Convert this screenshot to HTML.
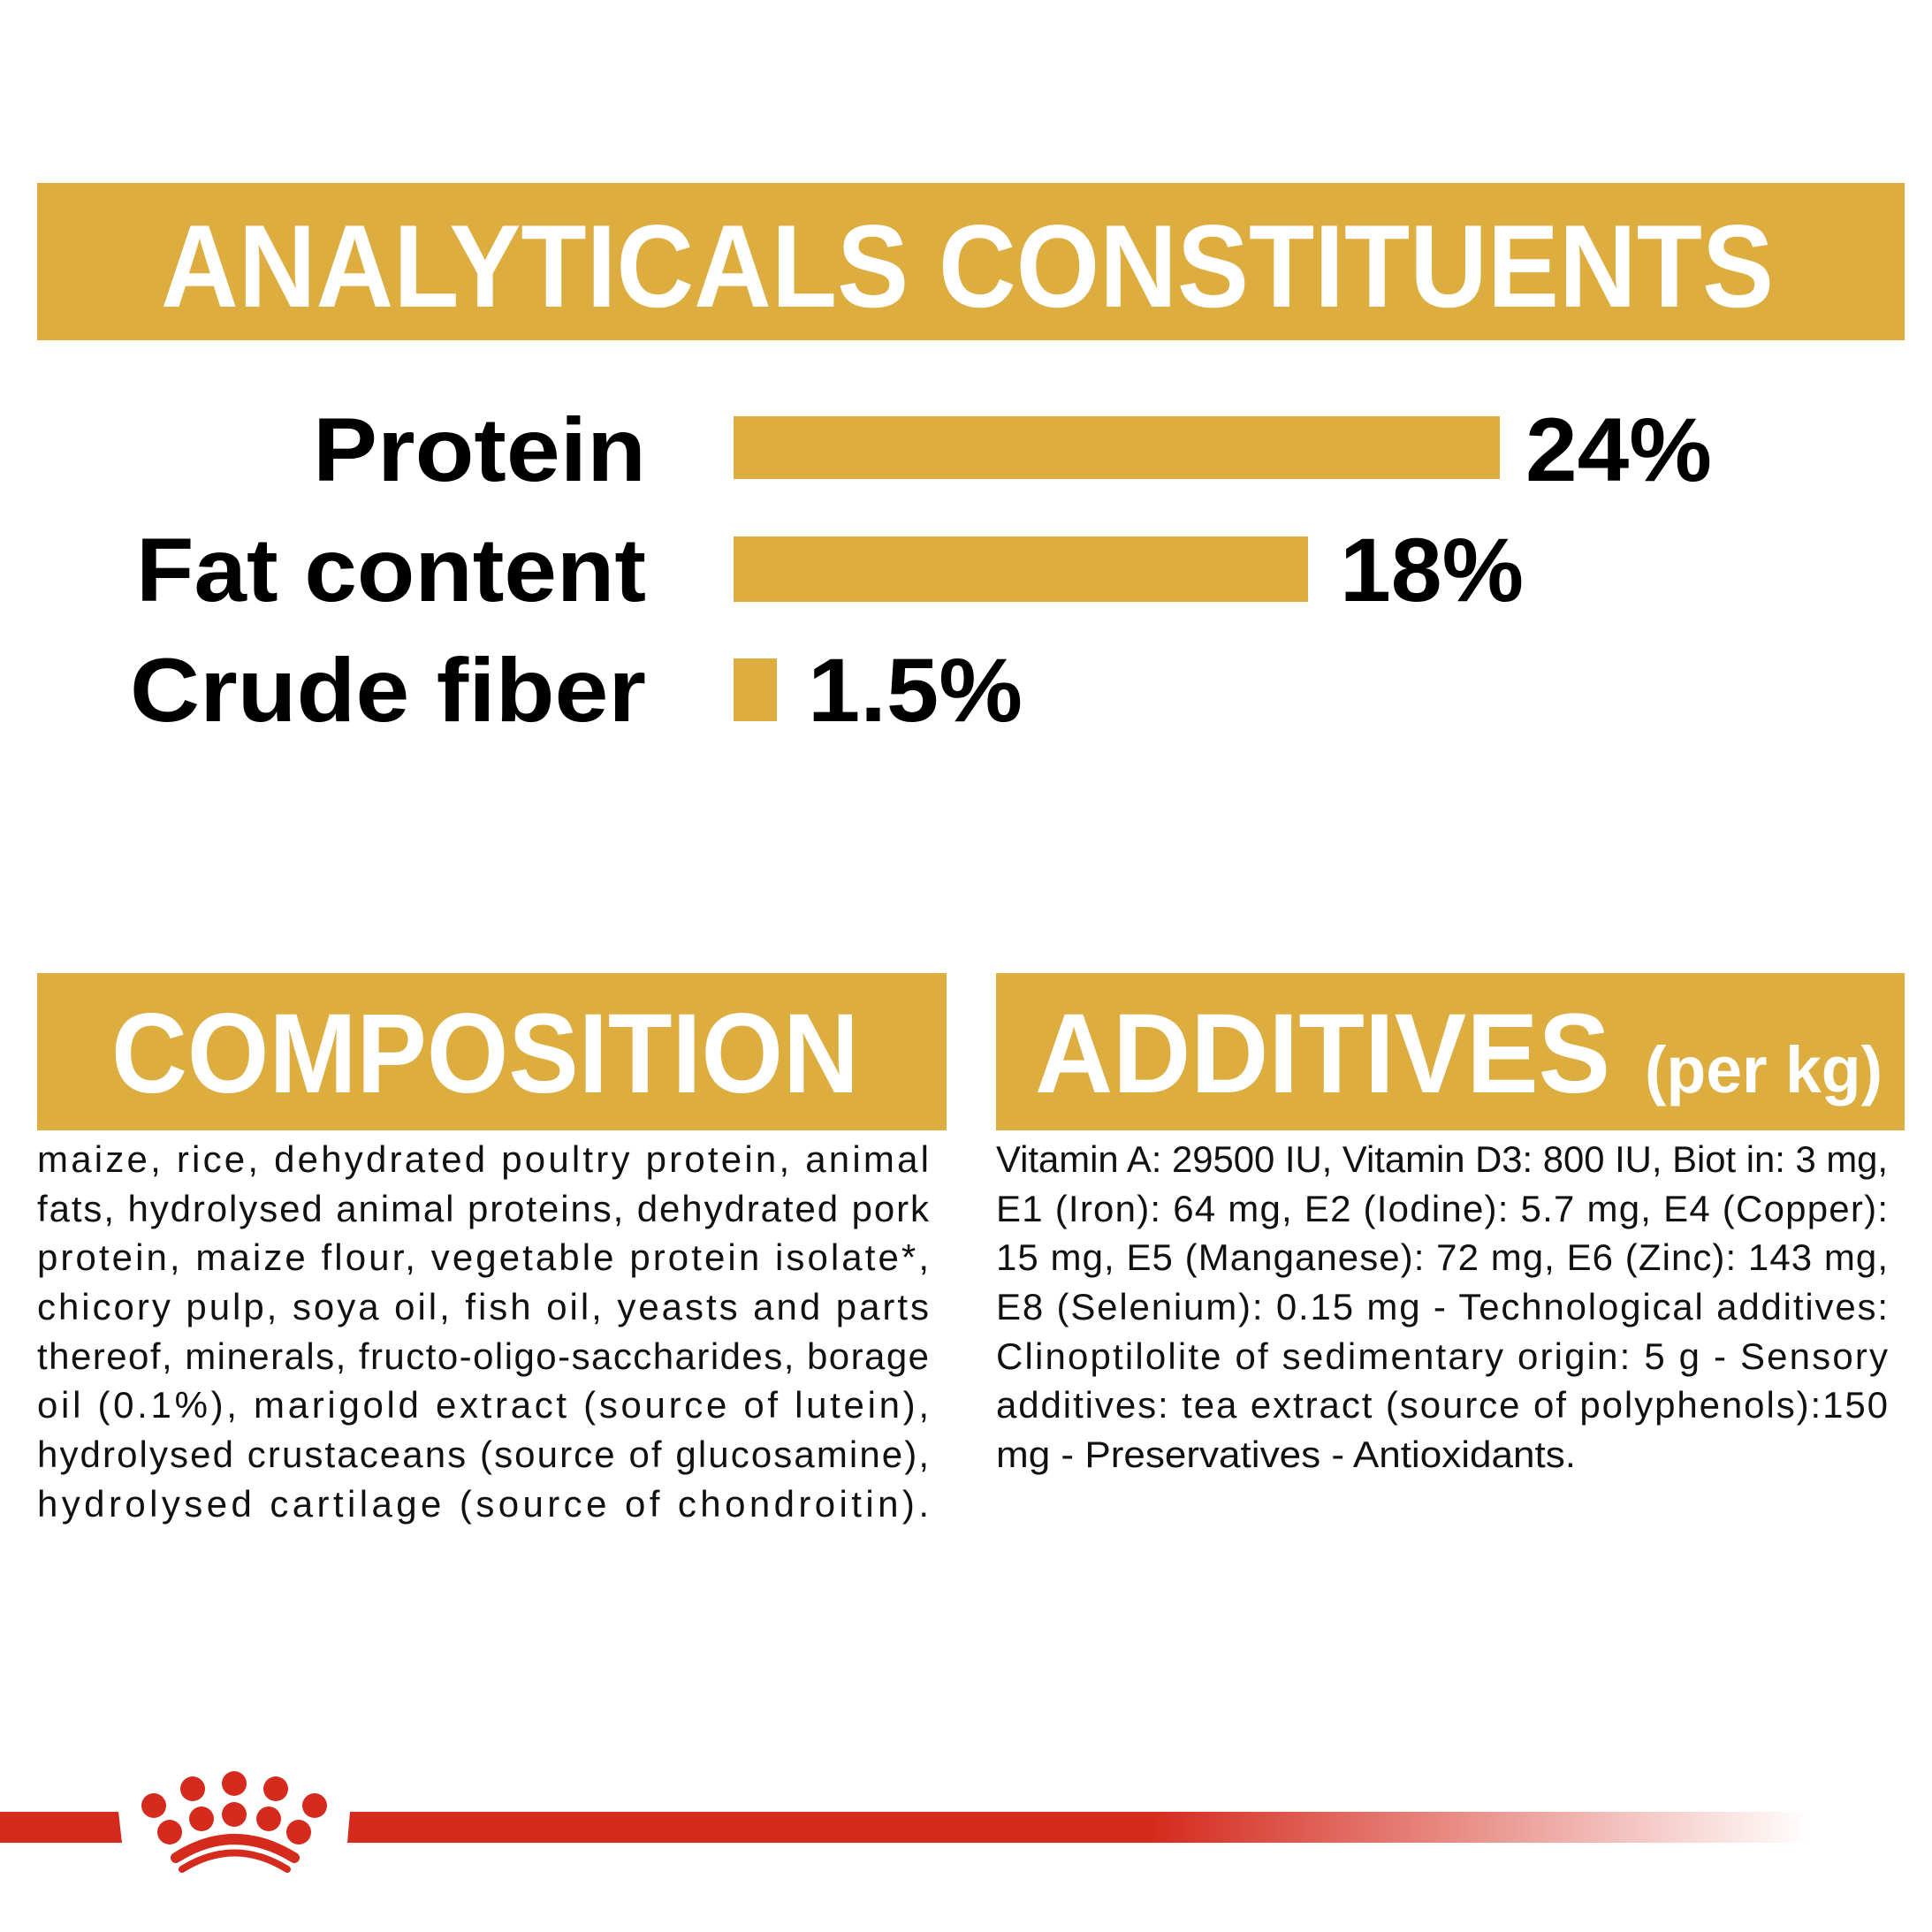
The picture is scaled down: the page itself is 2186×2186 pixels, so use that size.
<!DOCTYPE html>
<html><head><meta charset="utf-8"><style>
html,body{margin:0;padding:0;background:#fff;}
svg{display:block;}
.b{font-family:"Liberation Sans",sans-serif;font-weight:bold;}
.r{font-family:"Liberation Sans",sans-serif;font-size:42px;fill:#111;}
</style></head><body>
<svg width="2186" height="2186" viewBox="0 0 2186 2186" xmlns="http://www.w3.org/2000/svg">
<defs>
<linearGradient id="fade" x1="0" x2="1" y1="0" y2="0">
<stop offset="0" stop-color="#d52b1e"/><stop offset="0.55" stop-color="#d52b1e"/><stop offset="1" stop-color="#d52b1e" stop-opacity="0"/>
</linearGradient>
</defs>
<rect x="42" y="207" width="2113" height="178" fill="#ddad40"/>
<text class="b" x="182" y="347" font-size="133" fill="#fff" textLength="1825" lengthAdjust="spacingAndGlyphs">ANALYTICALS CONSTITUENTS</text>

<text class="b" x="731" y="544" font-size="102" text-anchor="end" textLength="377" lengthAdjust="spacingAndGlyphs">Protein</text>
<rect x="830" y="471" width="867" height="71" fill="#ddad40"/>
<text class="b" x="1726" y="544" font-size="102" textLength="211" lengthAdjust="spacingAndGlyphs">24%</text>

<text class="b" x="731" y="680" font-size="102" text-anchor="end" textLength="577" lengthAdjust="spacingAndGlyphs">Fat content</text>
<rect x="830" y="607" width="650" height="74" fill="#ddad40"/>
<text class="b" x="1516" y="680" font-size="102" textLength="208" lengthAdjust="spacingAndGlyphs">18%</text>

<text class="b" x="731" y="816" font-size="102" text-anchor="end" textLength="584" lengthAdjust="spacingAndGlyphs">Crude fiber</text>
<rect x="830" y="745" width="49" height="71" fill="#ddad40"/>
<text class="b" x="914" y="816" font-size="102" textLength="243" lengthAdjust="spacingAndGlyphs">1.5%</text>

<rect x="42" y="1101" width="1029" height="178" fill="#ddad40"/>
<text class="b" x="126" y="1236" font-size="128" fill="#fff" textLength="846" lengthAdjust="spacingAndGlyphs">COMPOSITION</text>
<rect x="1127" y="1101" width="1028" height="178" fill="#ddad40"/>
<text class="b" x="1171" y="1236" font-size="128" fill="#fff" textLength="651" lengthAdjust="spacingAndGlyphs">ADDITIVES</text>
<text class="b" x="1861" y="1236" font-size="74" fill="#fff" textLength="269" lengthAdjust="spacingAndGlyphs">(per kg)</text>

<g class="r">
<text x="42" y="1326" textLength="1009">maize, rice, dehydrated poultry protein, animal</text>
<text x="42" y="1382" textLength="1009">fats, hydrolysed animal proteins, dehydrated pork</text>
<text x="42" y="1437" textLength="1009">protein, maize flour, vegetable protein isolate*,</text>
<text x="42" y="1493" textLength="1009">chicory pulp, soya oil, fish oil, yeasts and parts</text>
<text x="42" y="1549" textLength="1009">thereof, minerals, fructo-oligo-saccharides, borage</text>
<text x="42" y="1604" textLength="1009">oil (0.1%), marigold extract (source of lutein),</text>
<text x="42" y="1660" textLength="1009">hydrolysed crustaceans (source of glucosamine),</text>
<text x="42" y="1716" textLength="1009">hydrolysed cartilage (source of chondroitin).</text>

<text x="1127" y="1326" textLength="1009" lengthAdjust="spacingAndGlyphs">Vitamin A: 29500 IU, Vitamin D3: 800 IU, Biot in: 3 mg,</text>
<text x="1127" y="1382" textLength="1009">E1 (Iron): 64 mg, E2 (Iodine): 5.7 mg, E4 (Copper):</text>
<text x="1127" y="1437" textLength="1009">15 mg, E5 (Manganese): 72 mg, E6 (Zinc): 143 mg,</text>
<text x="1127" y="1493" textLength="1009">E8 (Selenium): 0.15 mg - Technological additives:</text>
<text x="1127" y="1549" textLength="1009">Clinoptilolite of sedimentary origin: 5 g - Sensory</text>
<text x="1127" y="1604" textLength="1009">additives: tea extract (source of polyphenols):150</text>
<text x="1127" y="1660" textLength="656" lengthAdjust="spacingAndGlyphs">mg - Preservatives - Antioxidants.</text>
</g>

<polygon points="0,2050 134,2050 138,2085 0,2085" fill="#d52b1e"/>
<polygon points="396,2050 2050,2050 2050,2085 393,2085" fill="url(#fade)"/>
<g fill="#d52b1e">
<ellipse cx="265" cy="2018" rx="14" ry="14"/>
<ellipse cx="218" cy="2024" rx="14" ry="14"/>
<ellipse cx="312" cy="2024" rx="14" ry="14"/>
<ellipse cx="174" cy="2043" rx="14" ry="14"/>
<ellipse cx="356" cy="2043" rx="14" ry="14"/>
<ellipse cx="228" cy="2058" rx="14" ry="14"/>
<ellipse cx="265" cy="2053" rx="14" ry="14"/>
<ellipse cx="304" cy="2058" rx="14" ry="14"/>
<ellipse cx="192" cy="2073" rx="14" ry="14"/>
<ellipse cx="338" cy="2073" rx="14" ry="14"/>
</g>
<path d="M199,2102 Q265,2060 333,2102" stroke="#d52b1e" stroke-width="12" fill="none" stroke-linecap="round"/>
<path d="M206,2115 Q265,2078 325,2115" stroke="#d52b1e" stroke-width="8" fill="none" stroke-linecap="round"/>
</svg>
</body></html>
